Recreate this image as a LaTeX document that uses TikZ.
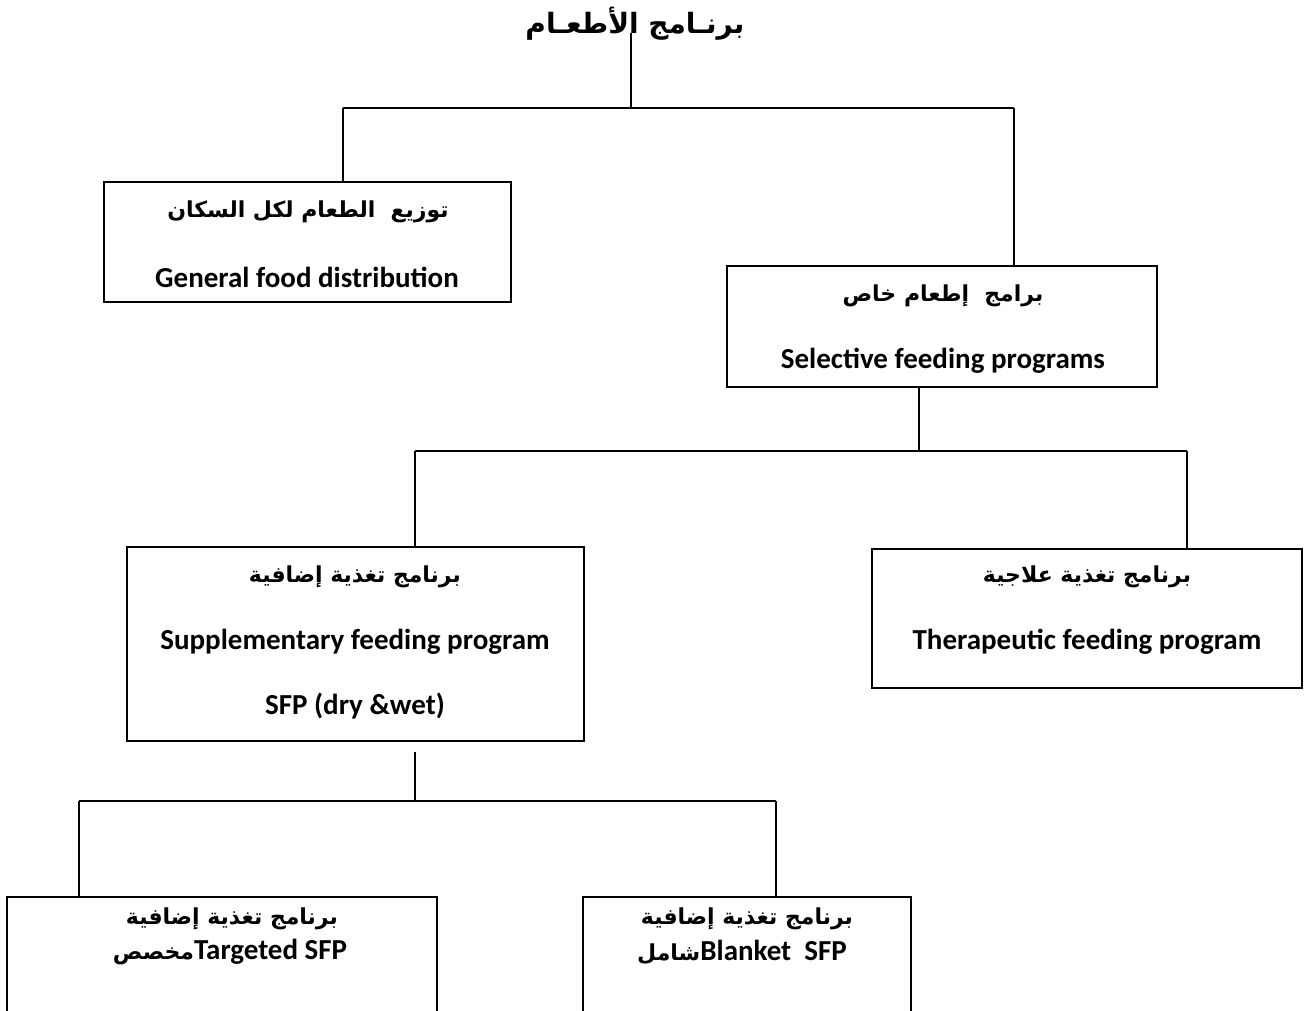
\documentclass[tikz,border=0pt]{standalone}
\usepackage{fontspec}
\setmainfont{Carlito}
\newfontfamily\arabicfont[Script=Arabic]{DejaVu Sans}
\TeXXeTstate=1

\tikzset{every picture/.style={line width=1.6pt}}
\tikzset{
  prog/.style={draw, line width=2pt, inner sep=0pt},
  entxt/.style={inner sep=0.75pt, font=\fontsize{29}{34}\selectfont\bfseries},
  artxt/.style={inner sep=0.75pt, font=\fontsize{22}{26}\selectfont\arabicfont\bfseries},
}

\begin{document}
\begin{tikzpicture}[x=1pt,y=1pt,yscale=-1,xscale=1]
\path[use as bounding box, clip] (0,0) rectangle (1304,1011);

% Title
\node[inner sep=0.75pt, font=\fontsize{28}{32}\selectfont\arabicfont\bfseries] (title) at (635,24) {\beginR برنـامج الأطعـام\endR};

%Boxes
\node[prog, minimum width=407, minimum height=120] (gfd) at (307,242) {};
\node[prog, minimum width=430, minimum height=121] (sel) at (942,326) {};
\node[prog, minimum width=457, minimum height=194] (sfp) at (355,644) {};
\node[prog, minimum width=430, minimum height=139] (ther) at (1087,618) {};
\node[prog, minimum width=430, minimum height=160] (tgt) at (222,977) {};
\node[prog, minimum width=328, minimum height=160] (blk) at (747,977) {};

% Text Node
\node[artxt] (gfd-ar) at (308,212) {\beginR توزيع\ \ الطعام لكل السكان\endR};
\node[entxt] (gfd-en) at (307,277) {General food distribution};
% Text Node
\node[artxt] (sel-ar) at (943,296) {\beginR برامج\ \ إطعام خاص\endR};
\node[entxt] (sel-en) at (943,361) {Selective feeding programs};
% Text Node
\node[artxt] (sfp-ar) at (355,577) {\beginR برنامج تغذية إضافية\endR};
\node[entxt] (sfp-en) at (355,642) {Supplementary feeding program};
\node[entxt] (sfp-dw) at (355,706) {SFP (dry \&wet)};
% Text Node
\node[artxt] (ther-ar) at (1087,577) {\beginR برنامج تغذية علاجية\endR};
\node[entxt] (ther-en) at (1087,642) {Therapeutic feeding program};
% Text Node
\node[artxt] (tgt-ar) at (232,919) {\beginR برنامج تغذية إضافية\endR};
\node[entxt] (tgt-en) at (230,952) {\beginR\beginL Targeted SFP\endL{\arabicfont\fontsize{22}{26}\selectfont مخصص}\endR};
% Text Node
\node[artxt] (blk-ar) at (747,919) {\beginR برنامج تغذية إضافية\endR};
\node[entxt] (blk-en) at (742,952) {\beginR\beginL Blanket\ \ SFP\endL{\arabicfont\fontsize{22}{26}\selectfont شامل}\endR};

%Straight Lines
\coordinate (root) at (631,33);
\coordinate (j1) at (631,108);
\coordinate (l1) at (343,108);
\coordinate (r1) at (1014,108);
\draw (root) -- (j1);
\draw (l1) -- (r1);
\draw (l1) -- (l1 |- gfd.north);
\draw (r1) -- (r1 |- sel.north);
%Straight Lines
\coordinate (j2) at (919,451);
\coordinate (l2) at (415,451);
\coordinate (r2) at (1187,451);
\draw (j2 |- sel.south) -- (j2);
\draw (l2) -- (r2);
\draw (l2) -- (l2 |- sfp.north);
\draw (r2) -- (r2 |- ther.north);
%Straight Lines
\coordinate (s3) at (415,752);
\coordinate (j3) at (415,801);
\coordinate (l3) at (79,801);
\coordinate (r3) at (776,801);
\draw (s3) -- (j3);
\draw (l3) -- (r3);
\draw (l3) -- (l3 |- tgt.north);
\draw (r3) -- (r3 |- blk.north);

\end{tikzpicture}
\end{document}
